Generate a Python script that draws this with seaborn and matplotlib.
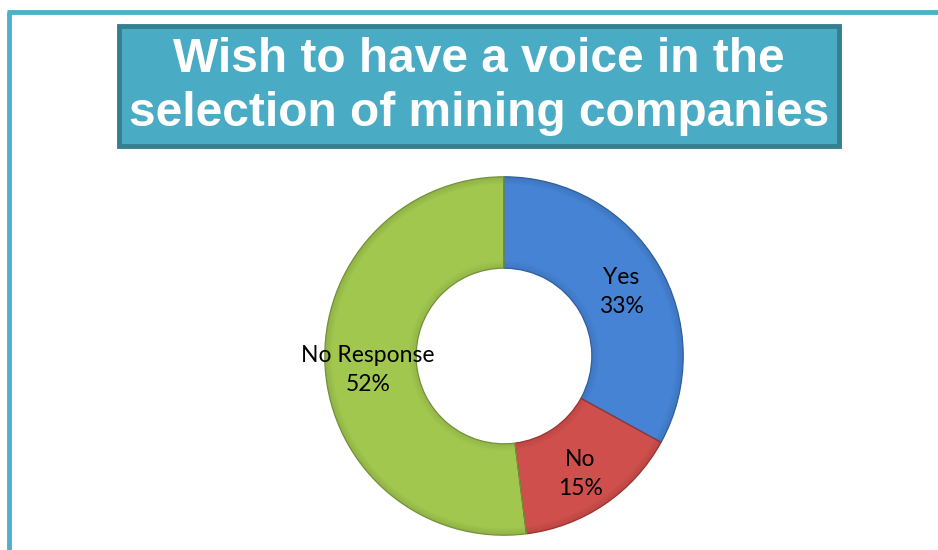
import matplotlib
matplotlib.use("Agg")
import matplotlib.pyplot as plt
from matplotlib.patches import FancyBboxPatch, Wedge
from matplotlib.lines import Line2D
import seaborn as sns
import numpy as np

# Survey responses
categories = ["Yes", "No", "No Response"]
shares = [33, 15, 52]
title_lines = ["Wish to have a voice in the", "selection of mining companies"]

sns.set_theme(style="white")
plt.rcParams["font.family"] = ["Lato", "DejaVu Sans"]

palette = sns.color_palette(["#4683d4", "#cf4f4c", "#a1c74f"])
edge_cols = ["#2f5f9e", "#9a3431", "#74913a"]

W, H = 938, 550
fig = plt.figure(figsize=(W / 100, H / 100), dpi=100)
fig.patch.set_facecolor("white")

# Slide frame: top and left rules
frame_col = "#4db1ca"
fig.add_artist(Line2D([7 / W, 1.0], [1 - 12 / H, 1 - 12 / H], color=frame_col, lw=3.5,
                      transform=fig.transFigure, solid_capstyle="butt"))
fig.add_artist(Line2D([9 / W, 9 / W], [0, 1 - 12 / H], color=frame_col, lw=3.5,
                      transform=fig.transFigure, solid_capstyle="butt"))

# Title banner
bx0, by0, bx1, by1 = 119, 26, 839, 146
banner = FancyBboxPatch((bx0 / W, 1 - by1 / H), (bx1 - bx0) / W, (by1 - by0) / H,
                        boxstyle="square,pad=0", transform=fig.transFigure,
                        facecolor="#4aabc5", edgecolor="#357f90", linewidth=3.5)
fig.add_artist(banner)
for line, ypx in zip(title_lines, [60, 114]):
    fig.text((bx0 + bx1) / 2 / W, 1 - ypx / H, line, ha="center", va="center",
             color="white", fontsize=34.5, fontweight="bold", family="Liberation Sans")

# Donut chart
cx, cy, r = 504, 356, 181
ax = fig.add_axes([(cx - r) / W, (H - cy - r) / H, 2 * r / W, 2 * r / H])
ax.set_aspect("equal")

ring_width = 0.51
inner = 1.0 - ring_width
wedges, _ = ax.pie(shares, colors=palette, startangle=90, counterclock=False,
                   radius=1.0, wedgeprops=dict(width=ring_width, linewidth=0))

# Soft bevel shading along the rims of each slice
n = 8
for w in wedges:
    t1, t2 = w.theta1, w.theta2
    for k in range(n):
        a = 0.10 * (1 - k / n)
        ax.add_patch(Wedge((0, 0), 1.0 - k * 0.005, t1, t2, width=0.005,
                           facecolor=(0, 0, 0, a), linewidth=0))
        ax.add_patch(Wedge((0, 0), inner + (k + 1) * 0.005, t1, t2, width=0.005,
                           facecolor=(0, 0, 0, a * 0.8), linewidth=0))

for w, ec in zip(wedges, edge_cols):
    ax.add_patch(Wedge((0, 0), 1.0, w.theta1, w.theta2, width=ring_width,
                       facecolor="none", edgecolor=ec, linewidth=0.9))

label_r = 0.76
start = 90.0
for cat, val in zip(categories, shares):
    mid = np.deg2rad(start - val * 3.6 / 2)
    start -= val * 3.6
    ax.text(label_r * np.cos(mid), label_r * np.sin(mid) - 0.03, f"{cat}\n{val}%",
            ha="center", va="center", fontsize=16.5, color="black", linespacing=1.5)

ax.set_xlim(-1.01, 1.01)
ax.set_ylim(-1.01, 1.01)
ax.axis("off")

fig.savefig("out.png", dpi=100, facecolor="white")
